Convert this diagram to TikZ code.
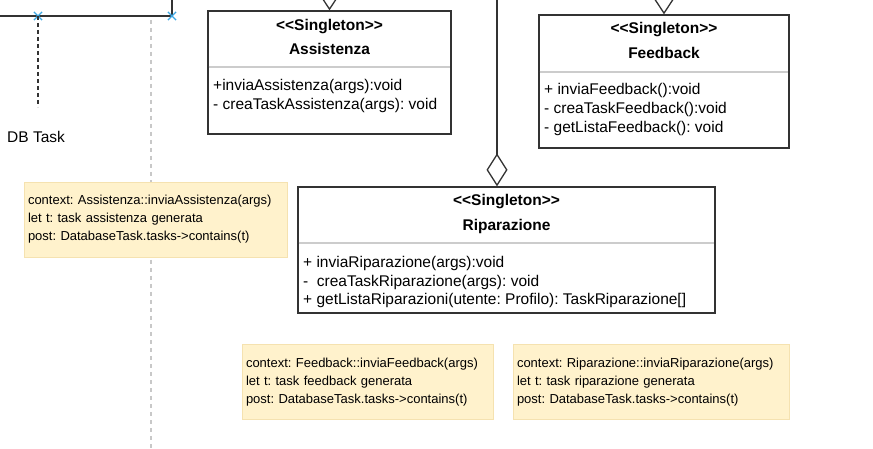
\documentclass[tikz,border=0pt]{standalone}
\usepackage{fontspec}
\setmainfont{Liberation Sans}
\usetikzlibrary{arrows.meta,shapes.misc}
\definecolor{notefill}{HTML}{FFF2CC}
\definecolor{noteline}{HTML}{F5E2B0}
\definecolor{sepgray}{HTML}{CCCCCC}
\definecolor{markblue}{HTML}{3DA8E4}
\definecolor{linegray}{HTML}{333333}
\definecolor{lifegray}{HTML}{C8C8C8}
\frenchspacing
\newcommand{\stereo}{{<}{<}Singleton{>}{>}}

\begin{document}
\begin{tikzpicture}[
    x=1pt, y=-1pt,
    umlbox/.style={rectangle, draw=linegray, line width=1.3pt, fill=white, inner sep=0pt},
    head/.style={font=\fontsize{15.5}{18}\selectfont\bfseries, inner sep=0pt},
    members/.style={anchor=west, align=left, inner sep=0pt, font=\fontsize{15.5}{18.7}\selectfont},
    note/.style={rectangle, draw=noteline, fill=notefill, inner xsep=4pt, inner ysep=0pt, align=left, minimum height=75pt, font=\fontsize{13}{18}\selectfont},
    sep/.style={draw=sepgray, line width=1.3pt},
    gen/.style={draw=linegray, line width=1.3pt, -{Triangle[fill=white, length=20pt, width=26pt]}},
    aggr/.style={draw=linegray, line width=1.3pt, -{Diamond[fill=white, length=33pt, width=21pt]}},
    xmark/.style={cross out, draw=markblue, line width=1.2pt, minimum size=7pt, inner sep=0pt},
]
\useasboundingbox (0,0) rectangle (873,449);
\clip (0,0) rectangle (873,449);

% DB Task (left, cut off)
\node[umlbox, minimum width=190pt, minimum height=30pt] (dbbox) at (77,1) {};
\node[xmark] (mk1) at (38,16) {};
\node[xmark] (mk2) at (172,16) {};
\coordinate (dbend) at (38,107);
\draw[linegray, line width=1.3pt, dash pattern=on 4pt off 3pt] (mk1.center) -- (dbend);
\node[anchor=west, inner sep=0pt, font=\fontsize{15.5}{18}\selectfont] (dbtask) at (7,137) {DB Task};

% lifeline
\coordinate (lf1) at (151,20);
\coordinate (lf2) at (151,449);
\draw[lifegray, line width=1.3pt, dash pattern=on 4pt off 4pt] (lf1) -- (lf2);

% Assistenza
\node[umlbox, minimum width=243pt, minimum height=123pt] (assist) at (329.5,72.5) {};
\node[head] (assisth) at (329.5,27) {\stereo};
\node[head] (assistn) at (329.5,49) {Assistenza};
\draw[sep] (208.7,67) -- (450.3,67);
\node[members] (assistm) at (213,96) {+inviaAssistenza(args):void\\- creaTaskAssistenza(args): void};

% Feedback
\node[umlbox, minimum width=250pt, minimum height=133pt] (feed) at (664,81.5) {};
\node[head] (feedh) at (664,30) {\stereo};
\node[head] (feedn) at (664,53) {Feedback};
\draw[sep] (539.7,72) -- (788.3,72);
\node[members] (feedm) at (544,109.5) {+ inviaFeedback():void\\- creaTaskFeedback():void\\- getListaFeedback(): void};

% Riparazione
\node[umlbox, minimum width=417pt, minimum height=126pt] (ripa) at (506.5,250) {};
\node[head] (ripah) at (506.5,202) {\stereo};
\node[head] (ripan) at (506.5,226) {Riparazione};
\draw[sep] (298.7,243) -- (714.3,243);
\node[members] (ripam) at (303,282) {+ inviaRiparazione(args):void\\-\ \ creaTaskRiparazione(args): void\\+ getListaRiparazioni(utente: Profilo): TaskRiparazione[]};

% connectors
\coordinate (gen1) at (329.5,-40);
\coordinate (gen2) at (664,-40);
\coordinate (agg) at (497,-10);
\draw[gen] (gen1) -- (assist.north);
\draw[gen] (gen2) -- (feed.north);
\draw[aggr] (agg) -- (agg |- ripa.north);

% OCL notes
\node[note, text width=255pt] (note1) at (155.5,219.5) {context: Assistenza::inviaAssistenza(args)\\let t: task assistenza generata\\post: DatabaseTask.tasks{-}{>}contains(t)};
\node[note, text width=243pt] (note2) at (367.5,382) {context: Feedback::inviaFeedback(args)\\let t: task feedback generata\\post: DatabaseTask.tasks{-}{>}contains(t)};
\node[note, text width=268pt] (note3) at (651,382) {context: Riparazione::inviaRiparazione(args)\\let t: task riparazione generata\\post: DatabaseTask.tasks{-}{>}contains(t)};

\end{tikzpicture}
\end{document}
